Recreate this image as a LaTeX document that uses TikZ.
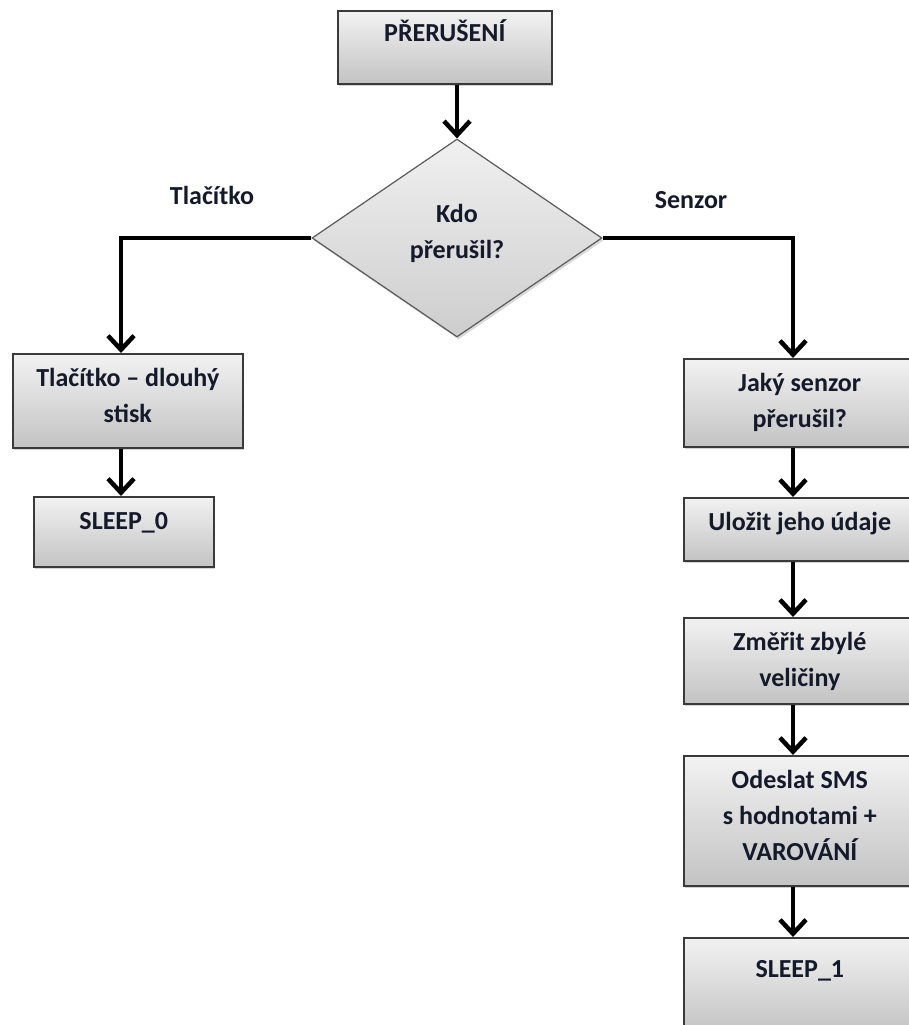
\documentclass[tikz,border=0pt]{standalone}
\usepackage{fontspec}
\setmainfont{Carlito}
\usepackage{tikz}
\usetikzlibrary{arrows.meta,shapes.geometric,shadows}

\definecolor{boxtop}{HTML}{F2F2F2}
\definecolor{boxbot}{HTML}{C3C3C3}
\definecolor{boxline}{HTML}{3A3A3A}
\definecolor{diatop}{HTML}{F0F0F0}
\definecolor{diabot}{HTML}{CDCDCD}
\definecolor{dialine}{HTML}{5A5A5A}
\definecolor{txtc}{HTML}{151A2A}

\newcommand{\boxtxt}[4][11pt]{\parbox[c][#3][t]{#2}{\centering\vspace*{#1}\rule{0pt}{22pt}#4}}

\begin{document}
\begin{tikzpicture}[x=1pt, y=-1pt,
    font=\fontsize{26}{36}\selectfont\bfseries, text=txtc,
    box/.style={draw=boxline, line width=1.6pt, top color=boxtop,
      bottom color=boxbot, inner sep=0pt, anchor=north west,
      drop shadow={shadow xshift=1.5pt, shadow yshift=-2.5pt, opacity=.35}},
    dia/.style={diamond, draw=dialine, line width=1.2pt, top color=diatop,
      bottom color=diabot, minimum width=290pt, minimum height=198pt,
      inner sep=0pt, align=center,
      drop shadow={shadow xshift=1.5pt, shadow yshift=-2.5pt, opacity=.3}},
    arr/.style={line width=4.5pt, -{Straight Barb[length=14pt, width=26pt]}}]
  \useasboundingbox (0,0) rectangle (908,1025);

  \node[box] (prer) at (337,10) {\boxtxt[9pt]{214pt}{73pt}{PŘERUŠENÍ}};
  \node[dia] (kdo) at (457,238) {Kdo\\přerušil?\\[-22pt]};
  \node[anchor=base] (tlacl) at (212,204) {Tlačítko};
  \node[anchor=base] (senl) at (691,208) {Senzor};

  \node[box] (tlac) at (12,353) {\boxtxt{230pt}{94pt}{Tlačítko – dlouhý\\stisk}};
  \node[box] (sleep0) at (33,496) {\boxtxt{180pt}{70pt}{SLEEP\_0}};

  \node[box] (jaky) at (683,358) {\boxtxt{232pt}{88pt}{Jaký senzor\\přerušil?}};
  \node[box] (ulozit) at (683,497) {\boxtxt{232pt}{63pt}{Uložit jeho údaje}};
  \node[box] (zmerit) at (683,617) {\boxtxt{232pt}{86pt}{Změřit zbylé\\veličiny}};
  \node[box] (odeslat) at (683,755) {\boxtxt{232pt}{130pt}{Odeslat SMS\\s hodnotami +\\VAROVÁNÍ}};
  \node[box] (sleep1) at (683,937) {\boxtxt[18pt]{232pt}{95pt}{SLEEP\_1}};

  \coordinate (lc) at (121,238);
  \coordinate (rc) at (793,238);

  \draw[arr] (prer.south -| kdo.north) -- (kdo.north);
  \draw[arr] (kdo.west) -- (lc) -- (lc |- tlac.north);
  \draw[arr] (kdo.east) -- (rc) -- (rc |- jaky.north);
  \draw[arr] (tlac.south -| lc) -- (sleep0.north -| lc);
  \foreach \a/\b in {jaky/ulozit, ulozit/zmerit, zmerit/odeslat, odeslat/sleep1}
    \draw[arr] (\a.south -| rc) -- (\b.north -| rc);
\end{tikzpicture}
\end{document}
